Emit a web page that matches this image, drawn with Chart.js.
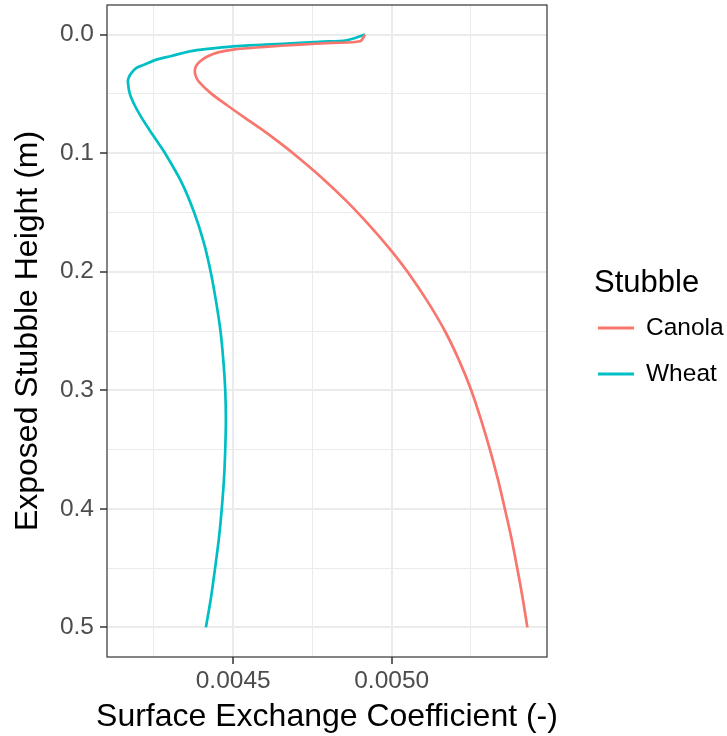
<!DOCTYPE html>
<html>
<head>
<meta charset="utf-8">
<script src="https://cdn.jsdelivr.net/npm/chart.js@4.4.1/dist/chart.umd.min.js"></script>
<style>
  html, body { margin: 0; padding: 0; background: #ffffff; }
  #wrap { width: 727px; height: 736px; position: relative; }
</style>
</head>
<body>
<div id="wrap"><canvas id="c" width="727" height="736"></canvas></div>
<script>
// Canola: exposed stubble height (m) and surface exchange coefficient (-)
const canolaHeights = [0, 0.0056, 0.007, 0.0084, 0.0105, 0.0126, 0.015, 0.0183, 0.022, 0.026,
  0.03, 0.035, 0.04, 0.05, 0.06, 0.07, 0.08, 0.09, 0.10, 0.12,
  0.14, 0.16, 0.18, 0.20, 0.225, 0.25, 0.275, 0.30, 0.325, 0.35,
  0.375, 0.40, 0.425, 0.45, 0.475, 0.50];
const canolaValues = [0.004916, 0.004900, 0.004810, 0.004711, 0.004590, 0.004500, 0.004452, 0.004420, 0.004398, 0.004384,
  0.004379, 0.004382, 0.004393, 0.004432, 0.004483, 0.004536, 0.004590, 0.004641, 0.004689, 0.004777,
  0.004856, 0.004927, 0.004992, 0.005050, 0.005113, 0.005168, 0.005213, 0.005251, 0.005282, 0.005310,
  0.005335, 0.005357, 0.005378, 0.005396, 0.005413, 0.005428];

// Wheat: exposed stubble height (m) and surface exchange coefficient (-)
const wheatHeights = [0, 0.0048, 0.006, 0.007, 0.0085, 0.0099, 0.012, 0.0141, 0.018, 0.0211,
  0.025, 0.0281, 0.032, 0.0365, 0.04, 0.05, 0.06, 0.07, 0.08, 0.09,
  0.10, 0.125, 0.15, 0.175, 0.20, 0.225, 0.25, 0.275, 0.30, 0.325,
  0.35, 0.375, 0.40, 0.425, 0.45, 0.475, 0.50];
const wheatValues = [0.004916, 0.004858, 0.004773, 0.004711, 0.004600, 0.004500, 0.004420, 0.004363, 0.004305, 0.004258,
  0.004222, 0.004195, 0.004180, 0.004170, 0.004168, 0.004174, 0.004190, 0.004211, 0.004235, 0.004260,
  0.004285, 0.004338, 0.004377, 0.004407, 0.004429, 0.004446, 0.004460, 0.004469, 0.004475, 0.004477,
  0.004475, 0.004471, 0.004464, 0.004455, 0.004443, 0.004430, 0.004414];

const seriesNames = ['Canola', 'Wheat'];
const seriesColors = ['#F8766D', '#00BFC4'];

// Axis breaks: labelled (major) and unlabelled (minor) grid positions
const xMajor = [0.0045, 0.0050];
const xGrid = [0.00425, 0.0045, 0.00475, 0.0050, 0.00525];
const yMajor = [0.0, 0.1, 0.2, 0.3, 0.4, 0.5];
const yGrid = [0.0, 0.05, 0.1, 0.15, 0.2, 0.25, 0.3, 0.35, 0.4, 0.45, 0.5];

const xTitle = 'Surface Exchange Coefficient (-)';
const yTitle = 'Exposed Stubble Height (m)';
const legendTitle = 'Stubble';

const FONT = '"Liberation Sans", Arial, Helvetica, sans-serif';
const isMajor = (list, v) => list.some(m => Math.abs(m - v) < 1e-9);

function toPoints(hs, vals) {
  return vals.map((v, i) => ({ x: v, y: hs[i] }));
}

// Panel border drawn on all four sides
const panelBorder = {
  id: 'panelBorder',
  afterDatasetsDraw(chart) {
    const { ctx, chartArea: a } = chart;
    ctx.save();
    ctx.strokeStyle = '#333333';
    ctx.lineWidth = 1.2;
    ctx.strokeRect(a.left, a.top, a.right - a.left, a.bottom - a.top);
    ctx.restore();
  }
};

// x-axis title centred under the panel (allowed to be wider than the panel)
const bottomTitle = {
  id: 'bottomTitle',
  afterDraw(chart) {
    const { ctx, chartArea: a } = chart;
    ctx.save();
    ctx.fillStyle = '#000000';
    ctx.font = '32px ' + FONT;
    ctx.textAlign = 'center';
    ctx.textBaseline = 'middle';
    ctx.fillText(xTitle, (a.left + a.right) / 2, chart.height - 19);
    ctx.restore();
  }
};

// Legend with a title, placed to the right of the panel
const stubbleLegend = {
  id: 'stubbleLegend',
  afterDraw(chart) {
    const { ctx, chartArea: a } = chart;
    const x0 = a.right + 47;
    const yc = (a.top + a.bottom) / 2;
    ctx.save();
    ctx.fillStyle = '#000000';
    ctx.textBaseline = 'middle';
    ctx.textAlign = 'left';
    ctx.font = '31px ' + FONT;
    ctx.fillText(legendTitle, x0, yc - 47.5);
    ctx.font = '24.5px ' + FONT;
    chart.data.datasets.forEach((ds, i) => {
      const y = yc - 3 + i * 46;
      ctx.strokeStyle = ds.borderColor;
      ctx.lineWidth = 3;
      ctx.beginPath();
      ctx.moveTo(x0 + 4, y);
      ctx.lineTo(x0 + 40, y);
      ctx.stroke();
      ctx.fillStyle = '#000000';
      ctx.fillText(ds.label, x0 + 52, y);
    });
    ctx.restore();
  }
};

const datasets = [[canolaHeights, canolaValues], [wheatHeights, wheatValues]].map(([hs, vals], i) => ({
  label: seriesNames[i],
  data: toPoints(hs, vals),
  borderColor: seriesColors[i],
  backgroundColor: seriesColors[i],
  borderWidth: 2.7,
  showLine: true,
  pointRadius: 0,
  tension: 0.3,
  fill: false
}));

new Chart(document.getElementById('c'), {
  type: 'scatter',
  data: { datasets },
  plugins: [panelBorder, bottomTitle, stubbleLegend],
  options: {
    responsive: false,
    devicePixelRatio: 1,
    animation: false,
    layout: { padding: { top: 5, right: 180, bottom: 0, left: 0 } },
    plugins: {
      legend: { display: false },
      tooltip: { enabled: false }
    },
    scales: {
      x: {
        type: 'linear',
        min: 0.004102,
        max: 0.005490,
        afterBuildTicks: s => { s.ticks = xGrid.map(v => ({ value: v })); },
        afterFit: s => { s.height = 79; s.paddingLeft = 0; s.paddingRight = 0; },
        border: { display: false },
        grid: {
          color: '#ebebeb',
          lineWidth: c => isMajor(xMajor, c.tick.value) ? 2 : 1,
          tickColor: c => isMajor(xMajor, c.tick.value) ? '#333333' : 'rgba(0,0,0,0)',
          tickLength: 7,
          tickWidth: 1.5
        },
        ticks: {
          autoSkip: false,
          maxRotation: 0,
          padding: 3,
          color: '#4d4d4d',
          font: { family: FONT, size: 24.5 },
          callback: v => isMajor(xMajor, v) ? v.toFixed(4) : ''
        },
        title: { display: false }
      },
      y: {
        type: 'linear',
        reverse: true,
        min: -0.025,
        max: 0.525,
        afterBuildTicks: s => { s.ticks = yGrid.map(v => ({ value: v })); },
        afterFit: s => { s.width = 107; s.paddingTop = 0; s.paddingBottom = 0; },
        border: { display: false },
        grid: {
          color: '#ebebeb',
          lineWidth: c => isMajor(yMajor, c.tick.value) ? 2 : 1,
          tickColor: c => isMajor(yMajor, c.tick.value) ? '#333333' : 'rgba(0,0,0,0)',
          tickLength: 7,
          tickWidth: 1.5
        },
        ticks: {
          autoSkip: false,
          padding: 6,
          color: '#4d4d4d',
          font: { family: FONT, size: 24.5 },
          callback: v => isMajor(yMajor, v) ? v.toFixed(1) : ''
        },
        title: {
          display: true,
          text: yTitle,
          color: '#000000',
          font: { family: FONT, size: 32 },
          padding: { top: 9, bottom: 0 }
        }
      }
    }
  }
});
</script>
</body>
</html>
